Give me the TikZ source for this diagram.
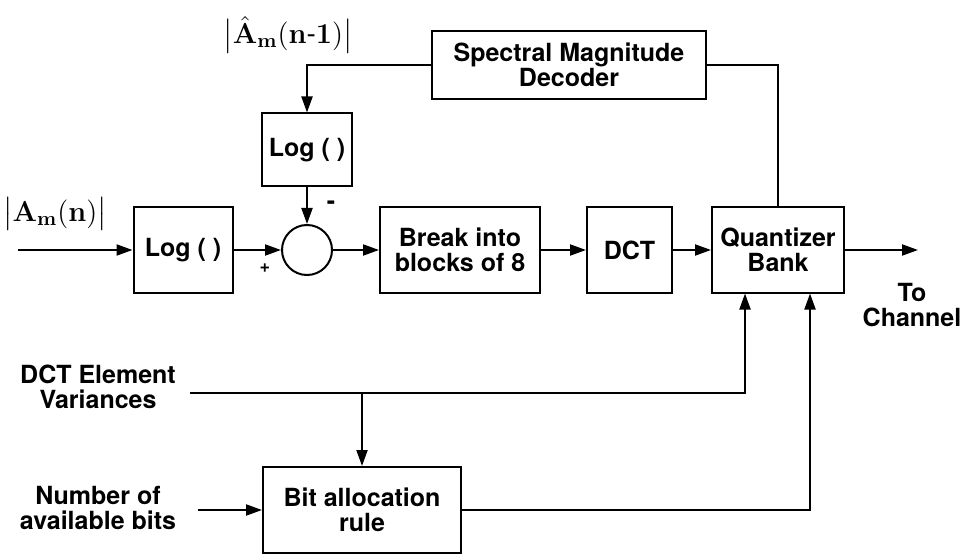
\documentclass[tikz,border=0pt]{standalone}
\usepackage{amsmath,amssymb}
\usepackage[no-math]{fontspec}
\setmainfont{TeX Gyre Heros}
\usepackage{tikz}
\usetikzlibrary{positioning,arrows.meta}
\tikzset{
    block/.style={draw, line width=1pt, minimum height=42.5pt, align=center, font=\fontsize{12.5}{12.5}\selectfont\bfseries}, % 方框
    link/.style={draw, line width=1pt, -{Triangle[length=8pt,width=5.5pt]}}, % 带箭头的连线
    wire/.style={draw, line width=1pt}, % 无箭头的连线
    lbl/.style={align=center, font=\fontsize{12.5}{12.5}\selectfont\bfseries}
}

\begin{document}
\begin{tikzpicture}[x=0.5pt, y=-0.5pt]
    \useasboundingbox (0,0) rectangle (961,555);

    \node (dec) [block, minimum width=137pt, minimum height=34pt] at (569, 65) {Spectral Magnitude\\Decoder};
    \node (logb) [block, minimum width=45pt, minimum height=36.5pt] at (307, 150) {Log ( )};
    \node (loga) [block, minimum width=49.5pt] at (183, 250) {Log ( )};
    \node (sum) [draw, line width=1pt, circle, minimum size=25pt, inner sep=0pt] at (307, 250) {};
    \node (brk) [block, minimum width=80pt] at (460, 250) {Break into\\blocks of 8};
    \node (dct) [block, minimum width=42.5pt] at (629.5, 250) {DCT};
    \node (qnt) [block, minimum width=66pt] at (778, 250) {Quantizer\\Bank};
    \node (bit) [block, minimum width=99pt, minimum height=43pt] at (362, 510) {Bit allocation\\rule};

    % 文字标签
    \node (ain) [inner sep=0pt] at (55, 214) {\fontsize{14}{16}\selectfont$\bigl|\mathbf{A}_{\mathbf{m}}(\mathbf{n})\bigr|$};
    \node (ahat) [inner sep=0pt] at (288, 35) {\fontsize{14}{16}\selectfont$\bigl|\hat{\mathbf{A}}_{\mathbf{m}}(\mathbf{n}\text{-}\mathbf{1})\bigr|$};
    \node (minus) [lbl] at (331, 205) {-};
    \node (plus) [lbl, font=\fontsize{9}{9}\selectfont\bfseries] at (265, 268) {+};
    \node (chan) [lbl] at (912, 305) {To\\Channel};
    \node (var) [lbl] at (98, 387) {DCT Element\\Variances};
    \node (nbits) [lbl] at (98, 508) {Number of\\available bits};

    \coordinate (in) at (18, 250);
    \coordinate (out) at (918, 250);
    \coordinate (vs) at (190, 393);
    \coordinate (ns) at (198, 510);
    \coordinate (vj) at (bit.north |- vs);

    % 主信号通路
    \draw[link] (in) -- (loga);
    \draw[link] (loga) -- (sum);
    \draw[link] (sum) -- (brk);
    \draw[link] (brk) -- (dct);
    \draw[link] (dct) -- (qnt);
    \draw[link] (qnt) -- (out);

    % 反馈通路
    \draw[wire] (qnt.north) |- (dec.east);
    \draw[link] (dec.west) -| (logb.north);
    \draw[link] (logb) -- (sum);

    % 比特分配
    \draw[link] (vs) -| ([xshift=-16.5pt]qnt.south);
    \draw[link] (vj) -- (bit.north);
    \draw[link] (ns) -- (bit);
    \draw[link] (bit.east) -| ([xshift=16pt]qnt.south);
\end{tikzpicture}
\end{document}
